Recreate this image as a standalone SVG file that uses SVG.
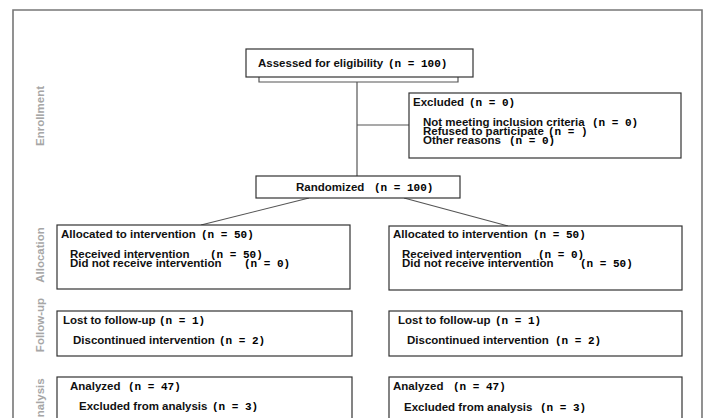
<svg xmlns="http://www.w3.org/2000/svg" width="705" height="418" viewBox="0 0 705 418">
<style>
.bx{fill:#fff;stroke:#333;stroke-width:1.2}
.t{font-family:"Liberation Sans",Arial,sans-serif;font-weight:bold;font-size:11.5px;fill:#111}
.m{font-family:"Liberation Mono","Courier New",monospace;font-weight:bold;font-size:11px;white-space:pre}
.side{font-family:"Liberation Sans",Arial,sans-serif;font-weight:bold;font-size:11.5px;fill:#a6a6a6;text-anchor:middle}
.ln{stroke:#555;stroke-width:1.2;fill:none}
</style>
<rect width="705" height="418" fill="#fff"/>
<path d="M13,430 V10 H702 V430" fill="none" stroke="#777" stroke-width="1.6"/>
<text class="side" transform="translate(44,116) rotate(-90)">Enrollment</text>
<text class="side" transform="translate(44,255) rotate(-90)">Allocation</text>
<text class="side" transform="translate(44,325) rotate(-90)">Follow-up</text>
<text class="side" transform="translate(44,402) rotate(-90)">Analysis</text>
<g id="connectors">
<path class="ln" d="M259,77 V82 H458 V77"/>
<path class="ln" d="M357,82 V176"/>
<path class="ln" d="M357,125 H409"/>
<path class="ln" d="M309,198 L201,225"/>
<path class="ln" d="M404,198 L508,226"/>
</g>
<g id="assessed">
<rect class="bx" x="246" y="49" width="227" height="28"/>
<text class="t" x="258" y="67">Assessed for eligibility</text>
<text class="m" x="388" y="67">(n = 100)</text>
</g>
<g id="excluded">
<rect class="bx" x="409" y="93" width="272" height="65"/>
<text class="t" x="413" y="106">Excluded</text><text class="m" x="469" y="106">(n = 0)</text>
<text class="t" x="423" y="126">Not meeting inclusion criteria</text><text class="m" x="592" y="126">(n = 0)</text>
<text class="t" x="423" y="135">Refused to participate</text><text class="m" x="548" y="135">(n = )</text>
<text class="t" x="423" y="144">Other reasons</text><text class="m" x="509" y="144">(n = 0)</text>
</g>
<g id="randomized">
<rect class="bx" x="256" y="176" width="204" height="22"/>
<text class="t" x="296" y="191">Randomized</text><text class="m" x="374" y="191">(n = 100)</text>
</g>
<g id="alloc-left">
<rect class="bx" x="57" y="225" width="293" height="64"/>
<text class="t" x="61" y="238">Allocated to intervention</text><text class="m" x="201" y="238">(n = 50)</text>
<text class="t" x="70" y="258">Received intervention</text><text class="m" x="210" y="258">(n = 50)</text>
<text class="t" x="70" y="267">Did not receive intervention</text><text class="m" x="244" y="267">(n = 0)</text>
</g>
<g id="alloc-right">
<rect class="bx" x="389" y="226" width="293" height="64"/>
<text class="t" x="393" y="238">Allocated to intervention</text><text class="m" x="533" y="238">(n = 50)</text>
<text class="t" x="402" y="258">Received intervention</text><text class="m" x="538" y="258">(n = 0)</text>
<text class="t" x="402" y="267">Did not receive intervention</text><text class="m" x="580" y="267">(n = 50)</text>
</g>
<g id="followup-left">
<rect class="bx" x="57" y="311" width="295" height="45"/>
<text class="t" x="63" y="324">Lost to follow-up</text><text class="m" x="159" y="324">(n = 1)</text>
<text class="t" x="73" y="344">Discontinued intervention</text><text class="m" x="219" y="344">(n = 2)</text>
</g>
<g id="followup-right">
<rect class="bx" x="389" y="311" width="293" height="45"/>
<text class="t" x="398" y="324">Lost to follow-up</text><text class="m" x="495" y="324">(n = 1)</text>
<text class="t" x="407" y="344">Discontinued intervention</text><text class="m" x="555" y="344">(n = 2)</text>
</g>
<g id="analysis-left">
<rect class="bx" x="57" y="377" width="295" height="60"/>
<text class="t" x="70" y="390">Analyzed</text><text class="m" x="128" y="390">(n = 47)</text>
<text class="t" x="79" y="410">Excluded from analysis</text><text class="m" x="212" y="410">(n = 3)</text>
</g>
<g id="analysis-right">
<rect class="bx" x="389" y="377" width="293" height="60"/>
<text class="t" x="393" y="390">Analyzed</text><text class="m" x="453" y="390">(n = 47)</text>
<text class="t" x="404" y="411">Excluded from analysis</text><text class="m" x="540" y="411">(n = 3)</text>
</g>
</svg>
